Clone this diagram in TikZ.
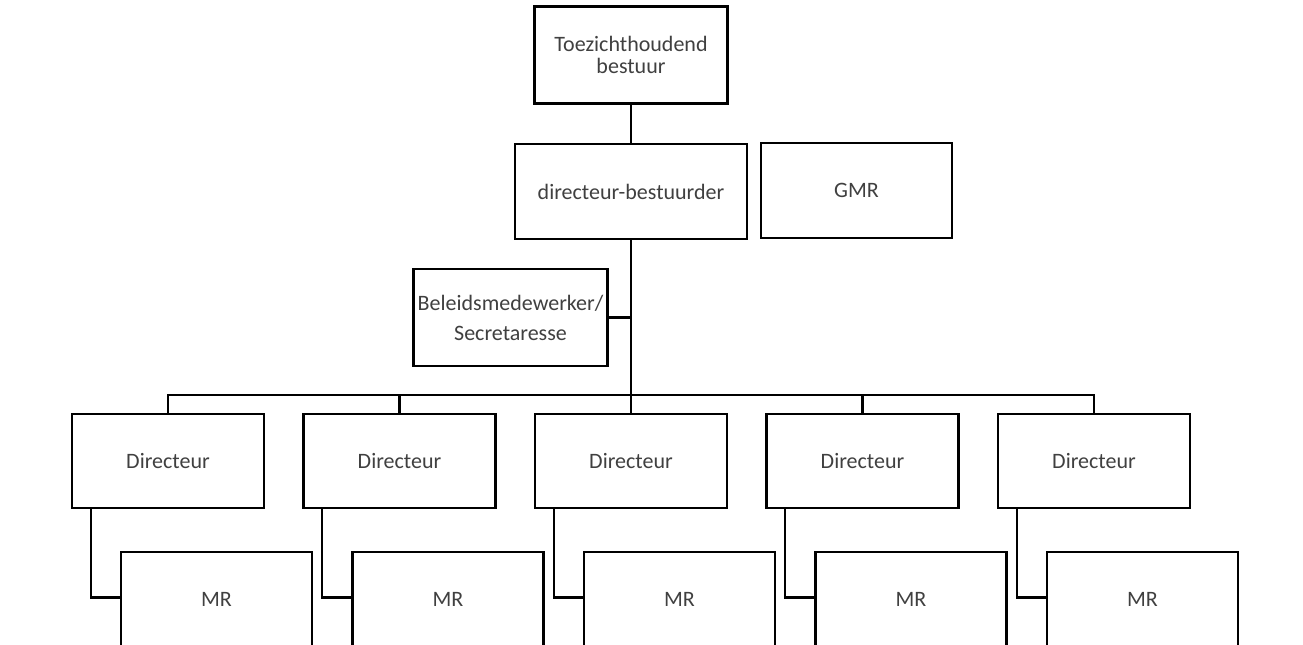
\documentclass[tikz,border=0pt]{standalone}
\usepackage{fontspec}
\setmainfont{Carlito}
\begin{document}
\begin{tikzpicture}[x=0.5pt,y=-0.5pt,
  box/.style={draw=black, line width=1.3pt, fill=white, inner sep=2pt, align=center,
    text=black!75, font=\fontsize{11}{11}\selectfont},
  link/.style={draw=black, line width=1.15pt}]
\useasboundingbox (0,0) rectangle (1303,644);
\clip (0,0) rectangle (1303,644);
\fill[white] (0,0) rectangle (1303,644);
% top levels
\node[box, minimum width=96.5pt, minimum height=48.5pt] (top) at (631,55) {Toezichthoudend\\bestuur};
\node[box, minimum width=116pt, minimum height=47.5pt] (db) at (631,191.5) {directeur-bestuurder};
\node[box, minimum width=95.5pt, minimum height=47.5pt] (gmr) at (856.5,190.5) {GMR};
\node[box, minimum width=96.5pt, minimum height=48.5pt, font=\fontsize{11}{15}\selectfont] (bel) at (510.5,317.5) {Beleidsmedewerker/\\Secretaresse};
\coordinate (bus) at (631,395);
% directors and MR
\foreach \i/\x in {1/168,2/399.5,3/631,4/862.5,5/1094}{
  \node[box, minimum width=96pt, minimum height=47pt] (d\i) at (\x,461) {Directeur};
  \node[box, minimum width=95.5pt, minimum height=47.5pt] (m\i) at (\x+48.5,599.5) {MR};
}
% connectors
\draw[link] (top) -- (db);
\draw[link] (db.south) -- (bus);
\draw[link] (bel.east) -- (bel.east -| db.south);
\draw[link] (d1.north) |- (bus) -| (d5.north);
\foreach \i in {2,3,4}{
  \draw[link] (d\i.north) -- (d\i.north |- bus);
}
\foreach \i in {1,...,5}{
  \draw[link] ([xshift=10pt]d\i.south west) |- ([yshift=1pt]m\i.west);
}
\end{tikzpicture}
\end{document}
